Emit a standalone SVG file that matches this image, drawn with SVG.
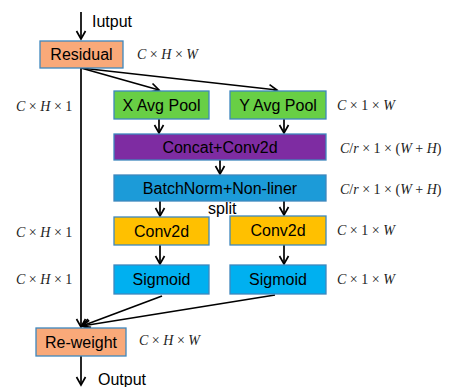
<svg xmlns="http://www.w3.org/2000/svg" width="454" height="387" viewBox="0 0 454 387">
<style>
.box{stroke:#3E87BE;stroke-width:1.3}
.t{font-family:"Liberation Sans",Arial,sans-serif;font-size:16px;fill:#000}
.m{font-family:"Liberation Serif","Times New Roman",serif;font-size:14px;fill:#222}
.i{font-style:italic}
.c{stroke:#000;stroke-width:1.7;fill:none}
</style>
<defs>
<marker id="a" markerUnits="userSpaceOnUse" markerWidth="14" markerHeight="14" refX="10" refY="6" orient="auto">
<path d="M2,1.5 L10,6 L2,10.5" fill="none" stroke="#000" stroke-width="1.7"/>
</marker>
</defs>
<rect width="454" height="387" fill="#fff"/>
<g id="connectors">
<line class="c" x1="81" y1="12" x2="81" y2="39" marker-end="url(#a)"/>
<line class="c" x1="81" y1="68" x2="81" y2="327" marker-end="url(#a)"/>
<line class="c" x1="81" y1="68" x2="159" y2="90" marker-end="url(#a)"/>
<line class="c" x1="81" y1="68" x2="277" y2="90" marker-end="url(#a)"/>
<line class="c" x1="159" y1="119" x2="159" y2="133" marker-end="url(#a)"/>
<line class="c" x1="284" y1="119" x2="284" y2="133" marker-end="url(#a)"/>
<line class="c" x1="220" y1="160" x2="220" y2="174" marker-end="url(#a)"/>
<line class="c" x1="160" y1="201" x2="160" y2="216" marker-end="url(#a)"/>
<line class="c" x1="284" y1="201" x2="284" y2="215" marker-end="url(#a)"/>
<line class="c" x1="160" y1="245" x2="160" y2="264" marker-end="url(#a)"/>
<line class="c" x1="284" y1="245" x2="284" y2="264" marker-end="url(#a)"/>
<line class="c" x1="162" y1="296" x2="82" y2="326" marker-end="url(#a)"/>
<line class="c" x1="275" y1="295" x2="82" y2="326" marker-end="url(#a)"/>
<line class="c" x1="81" y1="356" x2="81" y2="385" marker-end="url(#a)"/>
</g>
<g id="input"><text class="t" x="92" y="27">Iutput</text></g>
<g id="residual">
<rect class="box" x="40" y="41" width="83" height="27" fill="#F9A979"/>
<text class="t" x="81.5" y="60" text-anchor="middle">Residual</text>
</g>
<g id="xpool">
<rect class="box" x="114" y="91" width="95" height="28" fill="#68CF45"/>
<text class="t" x="161.5" y="111" text-anchor="middle">X Avg Pool</text>
</g>
<g id="ypool">
<rect class="box" x="230" y="91" width="96" height="28" fill="#68CF45"/>
<text class="t" x="278" y="111" text-anchor="middle">Y Avg Pool</text>
</g>
<g id="concat">
<rect class="box" x="114" y="134" width="212" height="26" fill="#7E2CA2"/>
<text class="t" x="220" y="153" text-anchor="middle">Concat+Conv2d</text>
</g>
<g id="bn">
<rect class="box" x="114" y="175" width="212" height="26" fill="#1C9BD8"/>
<text class="t" x="220" y="194" text-anchor="middle">BatchNorm+Non-liner</text>
<text class="t" x="208" y="214">split</text>
</g>
<g id="conv-left">
<rect class="box" x="114" y="217" width="95" height="28" fill="#FFC000"/>
<text class="t" x="161.5" y="237" text-anchor="middle">Conv2d</text>
</g>
<g id="conv-right">
<rect class="box" x="230" y="216" width="96" height="29" fill="#FFC000"/>
<text class="t" x="278" y="236" text-anchor="middle">Conv2d</text>
</g>
<g id="sig-left">
<rect class="box" x="114" y="265" width="95" height="29" fill="#00B0F0"/>
<text class="t" x="161.5" y="285" text-anchor="middle">Sigmoid</text>
</g>
<g id="sig-right">
<rect class="box" x="230" y="265" width="96" height="29" fill="#00B0F0"/>
<text class="t" x="278" y="285" text-anchor="middle">Sigmoid</text>
</g>
<g id="reweight">
<rect class="box" x="36" y="328" width="90" height="28" fill="#F9A979"/>
<text class="t" x="81" y="348" text-anchor="middle">Re-weight</text>
</g>
<g id="output"><text class="t" x="98" y="385">Output</text></g>
<g id="labels">
<text class="m" x="137" y="59"><tspan class="i">C</tspan> × <tspan class="i">H</tspan> × <tspan class="i">W</tspan></text>
<text class="m" x="16" y="111"><tspan class="i">C</tspan> × <tspan class="i">H</tspan> × 1</text>
<text class="m" x="337" y="110"><tspan class="i">C</tspan> × 1 × <tspan class="i">W</tspan></text>
<text class="m" x="340" y="153"><tspan class="i">C</tspan>/<tspan class="i">r</tspan> × 1 × (<tspan class="i">W</tspan> + <tspan class="i">H</tspan>)</text>
<text class="m" x="340" y="194"><tspan class="i">C</tspan>/<tspan class="i">r</tspan> × 1 × (<tspan class="i">W</tspan> + <tspan class="i">H</tspan>)</text>
<text class="m" x="16" y="237"><tspan class="i">C</tspan> × <tspan class="i">H</tspan> × 1</text>
<text class="m" x="337" y="235"><tspan class="i">C</tspan> × 1 × <tspan class="i">W</tspan></text>
<text class="m" x="16" y="284"><tspan class="i">C</tspan> × <tspan class="i">H</tspan> × 1</text>
<text class="m" x="337" y="284"><tspan class="i">C</tspan> × 1 × <tspan class="i">W</tspan></text>
<text class="m" x="139" y="345"><tspan class="i">C</tspan> × <tspan class="i">H</tspan> × <tspan class="i">W</tspan></text>
</g>
</svg>
